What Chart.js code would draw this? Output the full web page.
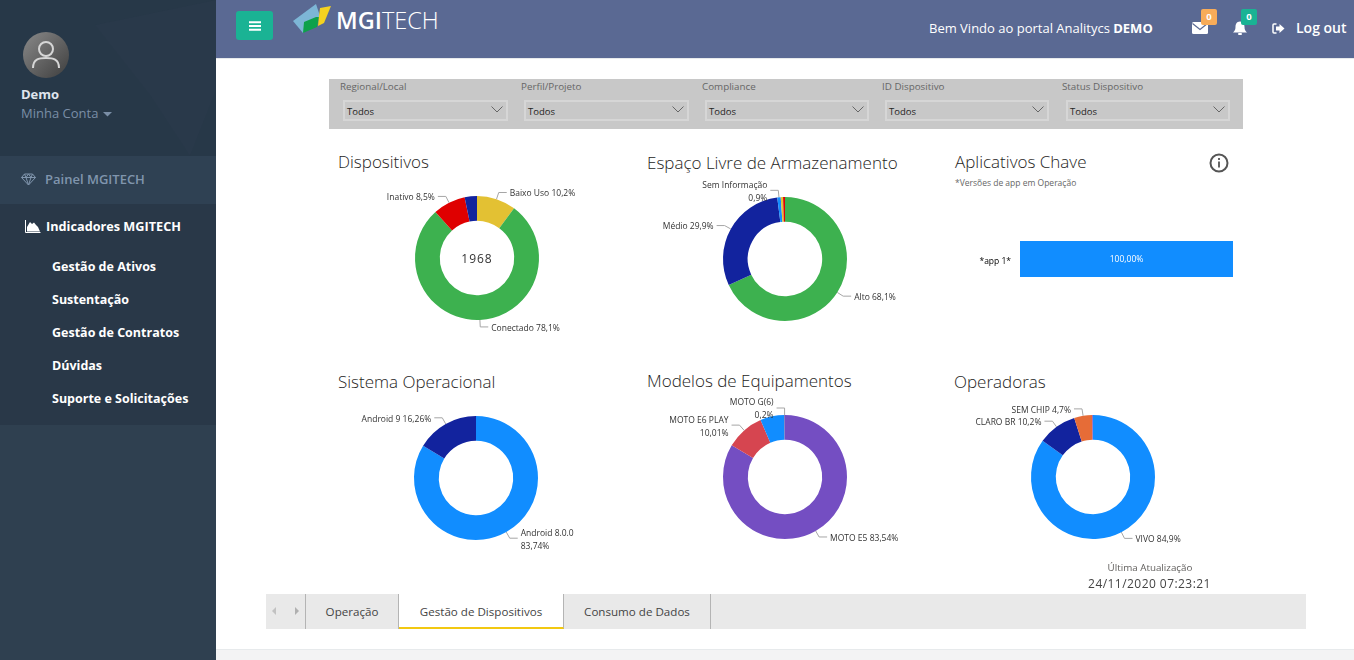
<!DOCTYPE html>
<html lang="pt-BR">
<head>
<meta charset="UTF-8">
<title>Gestão de Dispositivos</title>
<script src="https://cdn.jsdelivr.net/npm/chart.js"></script>
<style>
html, body { margin: 0; padding: 0; width: 1354px; height: 660px; overflow: hidden; background: #fff; font-family: "Open Sans", sans-serif; }
.box { position: absolute; }
.t { position: absolute; white-space: nowrap; line-height: 1; transform: translateY(-50%); }
.title { font-size: 17px; font-weight: 300; color: #252423; }
.flabel { font-size: 9.8px; color: #666; top: 87px; }
.select { position: absolute; top: 100px; height: 17px; border: 2px solid #d6d6d6; font-size: 9.5px; line-height: 20px; color: #252423; padding-left: 2px; box-sizing: content-box; }
.select svg { position: absolute; right: 3px; top: 4px; }
.side { color: #fff; font-size: 12.5px; font-weight: 700; left: 52px; }
canvas { position: absolute; }
.tab { position: absolute; top: 594px; height: 35px; font-size: 11.6px; line-height: 35px; color: #444; text-align: center; box-sizing: border-box; border-right: 1px solid #b4b4b4; }
</style>
</head>
<body>

<!-- sidebar -->
<div class="box" style="left:0;top:0;width:216px;height:660px;background:#2f4050"></div>
<div class="box" style="left:0;top:0;width:216px;height:156px;background:#273848"></div>
<svg class="box" style="left:0;top:0" width="216" height="156">
  <polygon points="95,25 216,0 216,90 190,156 150,95" fill="#29394a"/>
</svg>
<div class="box" style="left:0;top:156px;width:216px;height:48px;background:#2f4153"></div>
<div class="box" style="left:0;top:204px;width:216px;height:221px;background:#293848"></div>

<svg class="box" style="left:23px;top:32px" width="46" height="46">
  <defs><linearGradient id="av" x1="0" y1="0" x2="1" y2="1"><stop offset="0" stop-color="#8a8a8a"/><stop offset="1" stop-color="#3e3e3e"/></linearGradient></defs>
  <circle cx="23" cy="23" r="23" fill="url(#av)"/>
  <circle cx="23" cy="17" r="7" fill="none" stroke="#d6d6d6" stroke-width="2"/>
  <path d="M10 36 C10 27 16 26 23 26 C30 26 36 27 36 36" fill="none" stroke="#d6d6d6" stroke-width="2"/>
</svg>
<div class="t" style="left:21px;top:94px;font-size:13px;font-weight:700;color:#dfe4ed">Demo</div>
<div class="t" style="left:21px;top:113px;font-size:13px;color:#7a8ea6">Minha Conta</div>
<svg class="box" style="left:103px;top:112px" width="9" height="5"><polygon points="0,0 9,0 4.5,4.5" fill="#7a8ea6"/></svg>

<svg class="box" style="left:21px;top:173px" width="15" height="13">
  <path d="M3.5 1 H11.5 L14.5 4.5 L7.5 12 L0.5 4.5 Z M0.5 4.5 H14.5 M5 4.5 L7.5 12 L10 4.5 M3.5 1 L5 4.5 L7.5 1 L10 4.5 L11.5 1" fill="none" stroke="#8095ad" stroke-width="1"/>
</svg>
<div class="t" style="left:45px;top:179px;font-size:13px;font-weight:600;color:#8095ad">Painel MGITECH</div>

<svg class="box" style="left:25px;top:220px" width="16" height="13">
  <path d="M0.5 0 V12.5 H15.5" fill="none" stroke="#fff" stroke-width="1"/>
  <polygon points="2,11.5 2,7 5,2 7,4 9,2.5 11,5 13,7 15,11.5" fill="#fff"/>
</svg>
<div class="t side" style="left:46px;top:226px;font-size:12.7px">Indicadores MGITECH</div>
<div class="t side" style="top:267px">Gestão de Ativos</div>
<div class="t side" style="top:300px">Sustentação</div>
<div class="t side" style="top:333px">Gestão de Contratos</div>
<div class="t side" style="top:366px">Dúvidas</div>
<div class="t side" style="top:399px">Suporte e Solicitações</div>

<!-- top bar -->
<div class="box" style="left:216px;top:0;width:1138px;height:59px;background:#5a6993;border-bottom:1px solid #e7eaec;box-sizing:border-box"></div>
<div class="box" style="left:236px;top:11px;width:37px;height:29px;background:#1ab394;border-radius:3px"></div>
<svg class="box" style="left:249px;top:21px" width="12" height="10"><path d="M0 1.2 H12 M0 5 H12 M0 8.8 H12" stroke="#fff" stroke-width="2"/></svg>
<svg class="box" style="left:293px;top:3px" width="40" height="30">
  <polygon points="0,18 23,1 27,13 10,30" fill="#7db6d6"/>
  <polygon points="10,30 11,19 23,14 26,14 24,24" fill="#0ea14b"/>
  <polygon points="26,13 27,5 38,3 31,20 25,23" fill="#f5d21f"/>
</svg>
<div class="t" style="left:336px;top:21px;font-size:23.5px;color:#fff"><span style="font-weight:600">MGI</span><span style="font-weight:300">TECH</span></div>
<div class="t" style="left:929px;top:28px;font-size:13px;color:#fff">Bem Vindo ao portal Analitycs <b>DEMO</b></div>

<svg class="box" style="left:1192px;top:22px" width="16" height="13">
  <rect width="16" height="12" rx="1.5" fill="#fff"/><path d="M0.5 1.5 L8 7.5 L15.5 1.5" fill="none" stroke="#5a6993" stroke-width="1.2"/>
</svg>
<div class="box" style="left:1201px;top:9px;width:16px;height:16px;background:#f8ac59;border-radius:2px;color:#fff;font-size:9.5px;font-weight:700;text-align:center;line-height:16px">0</div>
<svg class="box" style="left:1233px;top:21px" width="14" height="14">
  <path d="M7 0.5 C10.5 0.5 11.5 3.5 11.5 6 C11.5 9 12.5 10 14 11.5 H0 C1.5 10 2.5 9 2.5 6 C2.5 3.5 3.5 0.5 7 0.5 Z" fill="#fff"/><rect x="5" y="12" width="4" height="2" rx="1" fill="#fff"/>
</svg>
<div class="box" style="left:1241px;top:9px;width:16px;height:16px;background:#1ab394;border-radius:2px;color:#fff;font-size:9.5px;font-weight:700;text-align:center;line-height:16px">0</div>
<svg class="box" style="left:1272px;top:23px" width="13" height="11">
  <path d="M4.5 1 H2 Q1 1 1 2 V9 Q1 10 2 10 H4.5" fill="none" stroke="#fff" stroke-width="1.5"/>
  <polygon points="4,3.5 7.5,3.5 7.5,1 12.5,5.5 7.5,10 7.5,7.5 4,7.5" fill="#fff"/>
</svg>
<div class="t" style="left:1296px;top:28px;font-size:14px;font-weight:600;color:#fff">Log out</div>

<!-- filters -->
<div class="box" style="left:329px;top:79px;width:914px;height:50px;background:#c8c8c8"></div>
<div class="t flabel" style="left:340px">Regional/Local</div>
<div class="t flabel" style="left:521px">Perfil/Projeto</div>
<div class="t flabel" style="left:702px">Compliance</div>
<div class="t flabel" style="left:882px">ID Dispositivo</div>
<div class="t flabel" style="left:1062px">Status Dispositivo</div>
<div class="select" style="left:343px;width:159px">Todos<svg width="12" height="7"><path d="M0.5 0.5 L6 6 L11.5 0.5" fill="none" stroke="#666"/></svg></div>
<div class="select" style="left:524px;width:159px">Todos<svg width="12" height="7"><path d="M0.5 0.5 L6 6 L11.5 0.5" fill="none" stroke="#666"/></svg></div>
<div class="select" style="left:705px;width:158px">Todos<svg width="12" height="7"><path d="M0.5 0.5 L6 6 L11.5 0.5" fill="none" stroke="#666"/></svg></div>
<div class="select" style="left:885px;width:158px">Todos<svg width="12" height="7"><path d="M0.5 0.5 L6 6 L11.5 0.5" fill="none" stroke="#666"/></svg></div>
<div class="select" style="left:1066px;width:158px">Todos<svg width="12" height="7"><path d="M0.5 0.5 L6 6 L11.5 0.5" fill="none" stroke="#666"/></svg></div>

<!-- titles -->
<div class="t title" style="left:338px;top:161px">Dispositivos</div>
<div class="t title" style="left:647px;top:162px">Espaço Livre de Armazenamento</div>
<div class="t title" style="left:955px;top:161px">Aplicativos Chave</div>
<div class="t" style="left:955px;top:183px;font-size:8.5px;color:#666">*Versões de app em Operação</div>
<svg class="box" style="left:1209px;top:153px" width="20" height="20">
  <circle cx="10" cy="10" r="8.5" fill="none" stroke="#555" stroke-width="2"/>
  <rect x="9.1" y="8.5" width="1.8" height="6" fill="#555"/><rect x="9.1" y="5" width="1.8" height="2" fill="#555"/>
</svg>
<div class="t title" style="left:338px;top:381px">Sistema Operacional</div>
<div class="t title" style="left:647px;top:380px">Modelos de Equipamentos</div>
<div class="t title" style="left:954px;top:381px">Operadoras</div>

<canvas id="dispositivos" width="300" height="170" style="left:327px;top:173px"></canvas>
<canvas id="espaco" width="300" height="170" style="left:635px;top:174px"></canvas>
<canvas id="aplicativos" width="290" height="70" style="left:955px;top:225px"></canvas>
<canvas id="sistema" width="300" height="170" style="left:326px;top:393px"></canvas>
<canvas id="modelos" width="300" height="170" style="left:635px;top:392px"></canvas>
<canvas id="operadoras" width="300" height="170" style="left:943px;top:392px"></canvas>

<div class="t" style="left:1050px;width:200px;text-align:center;top:568px;font-size:9.8px;color:#605e5c">Última Atualização</div>
<div class="t" style="left:1049.5px;width:200px;text-align:center;top:584px;font-size:12px;letter-spacing:0.45px;color:#444">24/11/2020 07:23:21</div>

<!-- tabs -->
<div class="box" style="left:266px;top:594px;width:1040px;height:35px;background:#e9e9e9"></div>
<svg class="box" style="left:271px;top:607px" width="30" height="9"><polygon points="5,0 5,8 1,4" fill="#c2c2c2"/><polygon points="24,0 24,8 28,4" fill="#b0b0b0"/></svg>
<div class="box" style="left:305px;top:594px;width:1px;height:35px;background:#b4b4b4"></div>
<div class="tab" style="left:306px;width:93px">Operação</div>
<div class="tab" style="left:399px;width:165px;background:#fff;border-bottom:2px solid #f2c811">Gestão de Dispositivos</div>
<div class="tab" style="left:564px;width:147px">Consumo de Dados</div>

<div class="box" style="left:216px;top:649px;width:1138px;height:11px;background:#f3f3f4;border-top:1px solid #e7eaec;box-sizing:border-box"></div>

<script>
// Dispositivos
const dispositivosLabels = ['Baixo Uso 10,2%', 'Conectado 78,1%', 'Inativo 8,5%', ''];
const dispositivosValues = [10.2, 78.1, 8.5, 3.2];
const dispositivosColors = ['#E3C133', '#3DB14F', '#DF0000', '#12239E'];
const dispositivosTotal = '1968';

// Espaço Livre de Armazenamento
const espacoLabels = ['Alto 68,1%', 'Médio 29,9%', 'Sem Informação\n0,9%', '', ''];
const espacoValues = [68.1, 29.9, 0.9, 0.6, 0.5];
const espacoColors = ['#3DB14F', '#12239E', '#118DFF', '#E3C133', '#DF0000'];

// Aplicativos Chave
const aplicativosLabels = ['*app 1*'];
const aplicativosValues = [100];
const aplicativosText = ['100,00%'];

// Sistema Operacional
const sistemaLabels = ['Android 8.0.0\n83,74%', 'Android 9 16,26%'];
const sistemaValues = [83.74, 16.26];
const sistemaColors = ['#118DFF', '#12239E'];

// Modelos de Equipamentos
const modelosLabels = ['MOTO E5 83,54%', 'MOTO E6 PLAY\n10,01%', '', 'MOTO G(6)\n0,2%'];
const modelosValues = [83.54, 10.01, 6.25, 0.2];
const modelosColors = ['#744EC2', '#D64550', '#118DFF', '#6B5FB0'];

// Operadoras
const operadorasLabels = ['VIVO 84,9%', 'CLARO BR 10,2%', 'SEM CHIP 4,7%', ''];
const operadorasValues = [84.9, 10.2, 4.7, 0.2];
const operadorasColors = ['#118DFF', '#12239E', '#E66C37', '#744EC2'];

const labelFont = '8.5px "Open Sans"';

// leader lines and outside labels, like the Power BI donuts
const leaderLabels = {
    id: 'leaderLabels',
    afterDatasetsDraw(chart) {
        const ctx = chart.ctx;
        const labels = chart.data.labels;
        chart.getDatasetMeta(0).data.forEach((arc, i) => {
            if (!labels[i]) return;
            const p = arc.getProps(['x', 'y', 'startAngle', 'endAngle', 'outerRadius'], true);
            const mid = (p.startAngle + p.endAngle) / 2;
            const x0 = p.x + Math.cos(mid) * p.outerRadius;
            const y0 = p.y + Math.sin(mid) * p.outerRadius;
            const x1 = x0 + Math.cos(mid) * 7;
            const y1 = y0 + Math.sin(mid) * 7;
            const right = Math.cos(mid) >= 0;
            const x2 = x1 + (right ? 8 : -8);

            ctx.save();
            ctx.strokeStyle = '#a6a6a6';
            ctx.lineWidth = 1;
            ctx.beginPath();
            ctx.moveTo(x0, y0);
            ctx.lineTo(x1, y1);
            ctx.lineTo(x2, y1);
            ctx.stroke();

            ctx.font = labelFont;
            ctx.fillStyle = '#333';
            ctx.textBaseline = 'middle';
            ctx.textAlign = right ? 'left' : 'right';
            const lines = labels[i].split('\n');
            lines.forEach((line, k) => {
                ctx.fillText(line, x2 + (right ? 3 : -3), y1 + 1.5 + (k - (lines.length - 1) / 2) * 13);
            });
            ctx.restore();
        });
    }
};

// number in the middle of the first donut
const centerText = {
    id: 'centerText',
    afterDraw(chart, args, opts) {
        if (!opts.text) return;
        const arc = chart.getDatasetMeta(0).data[0];
        const ctx = chart.ctx;
        ctx.save();
        ctx.font = '12px "Open Sans"';
        ctx.letterSpacing = '1px';
        ctx.fillStyle = '#333';
        ctx.textAlign = 'center';
        ctx.textBaseline = 'middle';
        ctx.fillText(opts.text, arc.x, arc.y + 1.5);
        ctx.restore();
    }
};

function donut(id, labels, values, colors, center) {
    return new Chart(document.getElementById(id), {
        type: 'doughnut',
        data: {
            labels: labels,
            datasets: [{ data: values, backgroundColor: colors, borderWidth: 0 }]
        },
        options: {
            responsive: false,
            animation: false,
            devicePixelRatio: 1,
            cutout: '60%',
            layout: { padding: { top: 23, bottom: 23 } },
            plugins: {
                legend: { display: false },
                tooltip: { enabled: false },
                centerText: { text: center }
            }
        },
        plugins: [leaderLabels, centerText]
    });
}

Chart.defaults.font.family = '"Open Sans"';

donut('dispositivos', dispositivosLabels, dispositivosValues, dispositivosColors, dispositivosTotal);
donut('espaco', espacoLabels, espacoValues, espacoColors);
donut('sistema', sistemaLabels, sistemaValues, sistemaColors);
donut('modelos', modelosLabels, modelosValues, modelosColors);
donut('operadoras', operadorasLabels, operadorasValues, operadorasColors);

// text inside the bar
const barText = {
    id: 'barText',
    afterDatasetsDraw(chart) {
        const ctx = chart.ctx;
        chart.getDatasetMeta(0).data.forEach((bar, i) => {
            ctx.save();
            ctx.font = labelFont;
            ctx.fillStyle = '#fff';
            ctx.textAlign = 'center';
            ctx.textBaseline = 'middle';
            ctx.fillText(aplicativosText[i], (bar.base + bar.x) / 2, bar.y + 1);
            ctx.restore();
        });
    }
};

new Chart(document.getElementById('aplicativos'), {
    type: 'bar',
    data: {
        labels: aplicativosLabels,
        datasets: [{
            data: aplicativosValues,
            backgroundColor: '#118DFF',
            barPercentage: 1,
            categoryPercentage: 1
        }]
    },
    options: {
        indexAxis: 'y',
        responsive: false,
        animation: false,
        devicePixelRatio: 1,
        layout: { padding: { top: 16, bottom: 18, right: 12 } },
        scales: {
            x: { display: false, min: 0, max: 100 },
            y: {
                afterFit(scale) { scale.width = 65; },
                grid: { display: false },
                border: { display: false },
                ticks: { color: '#000', font: { size: 8.5 }, padding: 1, labelOffset: 3 }
            }
        },
        plugins: { legend: { display: false }, tooltip: { enabled: false } }
    },
    plugins: [barText]
});
</script>
</body>
</html>
